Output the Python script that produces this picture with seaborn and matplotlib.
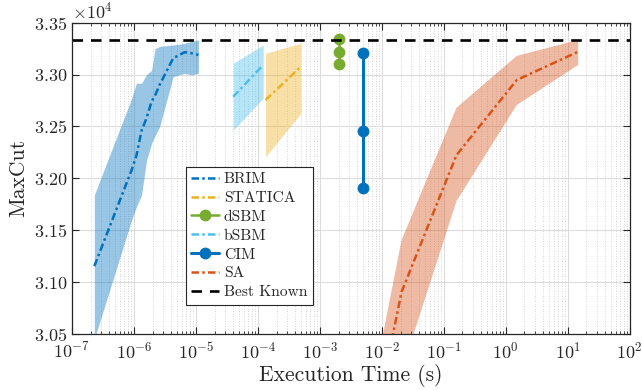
import numpy as np
import pandas as pd
import seaborn as sns
import matplotlib
matplotlib.use("Agg")
import matplotlib.pyplot as plt
from matplotlib.ticker import LogLocator, ScalarFormatter, NullFormatter

# values (MaxCut in absolute units)
brim_t = [2.3e-7, 9.2e-7, 1.1e-6, 1.33e-6, 1.6e-6, 1.93e-6, 2.2e-6, 2.6e-6, 4.3e-6, 6.6e-6, 8.5e-6, 1.1e-5]
brim_mean = [31154, 32080, 32220, 32460, 32580, 32740, 32800, 32900, 33157, 33215, 33205, 33189]
brim_low = [30450, 31600, 31726, 31840, 32176, 32337, 32410, 32497, 32980, 33012, 32996, 33012]
brim_high = [31840, 32770, 32916, 32916, 33000, 33040, 33250, 33270, 33285, 33300, 33320, 33333]

statica_t = [1.33e-4, 4.94e-4]
statica_mean = [32755, 33076]
statica_low = [32208, 32626]
statica_high = [33205, 33300]

bsbm_t = [4.0e-5, 1.22e-4]
bsbm_mean = [32786, 33092]
bsbm_low = [32465, 32771]
bsbm_high = [33108, 33285]

dsbm_t = [2e-3, 2e-3, 2e-3]
dsbm_val = [33343, 33215, 33099]

cim_t = [5e-3, 5e-3, 5e-3]
cim_val = [33205, 32459, 31903]

sa_t = [0.01, 0.0208, 0.16, 1.5, 14.7]
sa_mean = [29970, 30906, 32224, 32947, 33220]
sa_low = [29500, 30140, 31780, 32706, 33092]
sa_high = [30440, 31404, 32680, 33179, 33333]

best_known = 33337

xtick_vals = [1e-7, 1e-6, 1e-5, 1e-4, 1e-3, 1e-2, 1e-1, 1e0, 1e1, 1e2]

C_BLUE = "#0072BD"
C_ORANGE = "#EDB120"
C_GREEN = "#77AC30"
C_CYAN = "#4DBEEE"
C_RED = "#D95319"

sns.set_theme(style="ticks")
plt.rcParams["font.family"] = ["serif"]
plt.rcParams["font.serif"] = ["cmr10", "DejaVu Serif"]
plt.rcParams["mathtext.fontset"] = "cm"
plt.rcParams["axes.formatter.use_mathtext"] = True
plt.rcParams["axes.unicode_minus"] = False

fig = plt.figure(figsize=(6.42, 3.90), dpi=100)
ax = fig.add_axes([0.112, 0.1436, 0.869, 0.7984])

# shaded ranges
ax.fill_between(brim_t, brim_low, brim_high, color=C_BLUE, alpha=0.4, lw=0)
ax.fill_between(bsbm_t, bsbm_low, bsbm_high, color=C_CYAN, alpha=0.4, lw=0)
ax.fill_between(statica_t, statica_low, statica_high, color=C_ORANGE, alpha=0.4, lw=0)
ax.fill_between(sa_t, sa_low, sa_high, color=C_RED, alpha=0.4, lw=0)

lw = 1.8
dashdot = (0, (3, 1.3, 1, 1.3))
sns.lineplot(x=brim_t, y=brim_mean, ax=ax, color=C_BLUE, lw=lw, ls=dashdot, label="BRIM",
             estimator=None, sort=False)
sns.lineplot(x=statica_t, y=statica_mean, ax=ax, color=C_ORANGE, lw=lw, ls=dashdot, label="STATICA",
             estimator=None, sort=False)
sns.lineplot(x=dsbm_t, y=dsbm_val, ax=ax, color=C_GREEN, lw=lw, marker="o", markersize=8.5,
             markeredgewidth=0, label="dSBM", estimator=None, sort=False)
sns.lineplot(x=bsbm_t, y=bsbm_mean, ax=ax, color=C_CYAN, lw=lw, ls=dashdot, label="bSBM",
             estimator=None, sort=False)
sns.lineplot(x=cim_t, y=cim_val, ax=ax, color=C_BLUE, lw=2.2, marker="o", markersize=8.5,
             markeredgewidth=0, label="CIM", estimator=None, sort=False)
sns.lineplot(x=sa_t, y=sa_mean, ax=ax, color=C_RED, lw=lw, ls=dashdot, label="SA",
             estimator=None, sort=False)
ax.axhline(best_known, color="black", lw=1.9, ls=(0, (4, 3)), label="Best Known")

ax.set_xscale("log")
ax.set_xlim(1e-7, 1e2)
ax.set_ylim(30500, 33500)
ax.set_xticks(xtick_vals)
ax.xaxis.set_minor_locator(LogLocator(base=10, subs=np.arange(2, 10), numticks=100))
ax.xaxis.set_minor_formatter(NullFormatter())
ax.set_yticks(np.arange(30500, 33501, 500))

fmt = ScalarFormatter(useMathText=True)
fmt.set_powerlimits((0, 0))
ax.yaxis.set_major_formatter(fmt)
ax.yaxis.get_offset_text().set_fontsize(13)

ax.grid(which="major", color="#dcdcdc", lw=0.8, ls="-")
ax.grid(which="minor", axis="x", color="#c8c8c8", lw=0.6, ls=(0, (1, 2)))
ax.set_axisbelow(True)

ax.tick_params(which="both", direction="in", top=True, right=True, colors="#262626",
               labelsize=13, labelcolor="#262626")
ax.tick_params(axis="x", which="major", pad=5)
ax.tick_params(which="major", length=5, width=0.8)
ax.tick_params(which="minor", length=2.5, width=0.6)
for s in ax.spines.values():
    s.set_visible(True)
    s.set_color("#262626")
    s.set_linewidth(0.9)

ax.set_xlabel("Execution Time (s)", fontsize=15.5, color="#262626", labelpad=2)
ax.set_ylabel("MaxCut", fontsize=15.5, color="#262626", labelpad=4)

leg = ax.legend(loc="upper left", bbox_to_anchor=(0.204, 0.537), borderaxespad=0,
                fancybox=False, framealpha=1, edgecolor="#262626", fontsize=11.2,
                handlelength=1.8, handletextpad=0.3, labelspacing=0.32, borderpad=0.35)
leg.get_frame().set_linewidth(0.8)

fig.savefig("out.png", dpi=100)
